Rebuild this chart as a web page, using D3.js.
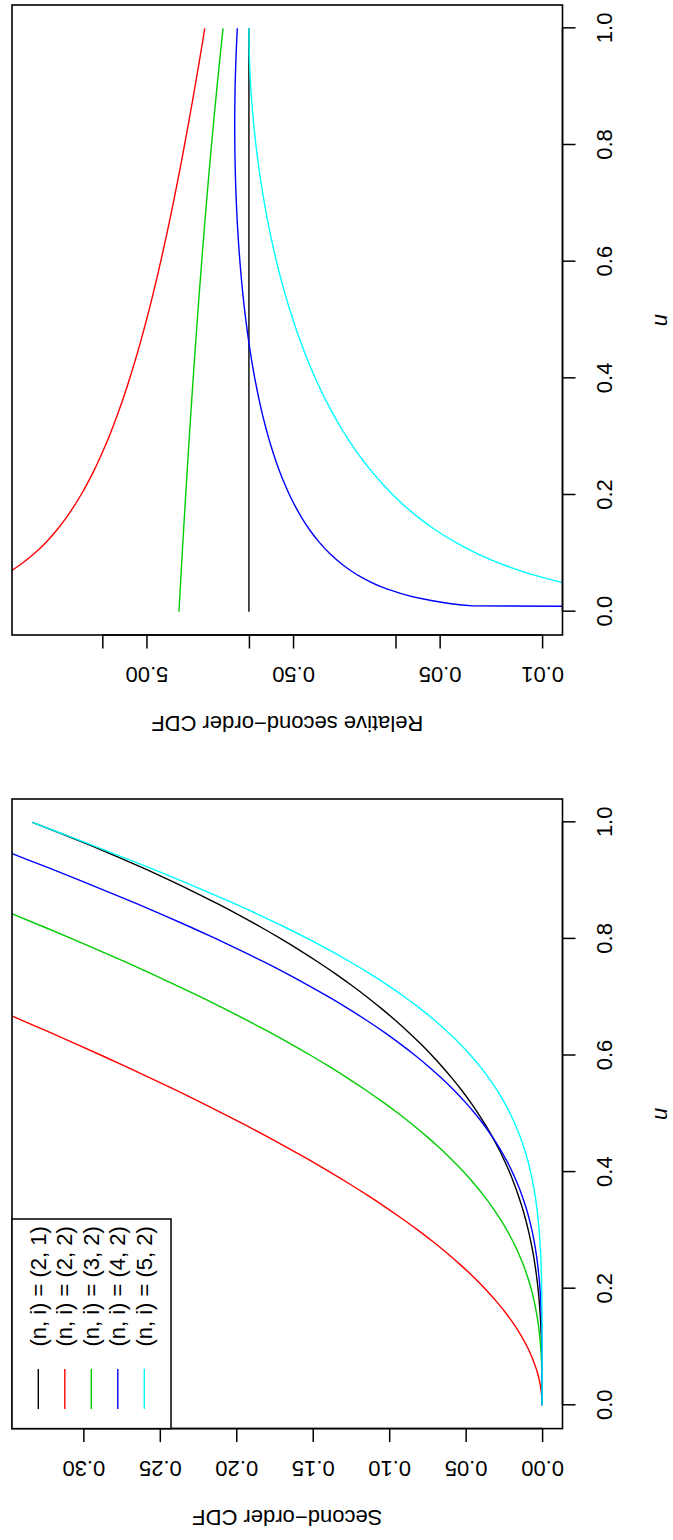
<!DOCTYPE html>
<html>
<head>
<meta charset="utf-8">
<script src="https://cdn.jsdelivr.net/npm/d3@7"></script>
<style>
  html, body { margin: 0; padding: 0; background: #ffffff; }
  svg { display: block; }
  text { font-family: "Liberation Sans", Arial, Helvetica, sans-serif; font-size: 22px; fill: #000; }
</style>
</head>
<body>
<svg id="fig" width="673" height="1540"></svg>
<script>
// ---- grid of u values shared by both panels ----
const u = [0, 0.01, 0.02, 0.04, 0.06, 0.08, 0.10, 0.12, 0.14, 0.16, 0.18, 0.20, 0.22, 0.24, 0.26, 0.28,
  0.30, 0.32, 0.34, 0.36, 0.38, 0.40, 0.42, 0.44, 0.46, 0.48, 0.50, 0.52, 0.54, 0.56, 0.58, 0.60,
  0.62, 0.64, 0.66, 0.68, 0.70, 0.72, 0.74, 0.76, 0.78, 0.80, 0.82, 0.84, 0.86, 0.88, 0.90, 0.92,
  0.94, 0.96, 0.98, 1.00];

// ---- second-order CDF, one array per (n, i) ----
const cdf21 = [0, 0, 0, 0.00002, 0.00007, 0.00017, 0.00033, 0.00058, 0.00091, 0.00137, 0.00194, 0.00267,
  0.00355, 0.00461, 0.00586, 0.00732, 0.009, 0.01092, 0.0131, 0.01555, 0.01829, 0.02133, 0.0247, 0.02839,
  0.03245, 0.03686, 0.04167, 0.04687, 0.05249, 0.05854, 0.06504, 0.072, 0.07944, 0.08738, 0.09583, 0.10481,
  0.11433, 0.12442, 0.13507, 0.14633, 0.15818, 0.17067, 0.18379, 0.19757, 0.21202, 0.22716, 0.243, 0.25956,
  0.27686, 0.29491, 0.31373, 0.33333];
const cdf22 = [0, 0.0001, 0.0004, 0.00158, 0.00353, 0.00623, 0.00967, 0.01382, 0.01869, 0.02423, 0.03046,
  0.03733, 0.04485, 0.05299, 0.06174, 0.07108, 0.081, 0.09148, 0.1025, 0.11405, 0.12611, 0.13867, 0.1517,
  0.16521, 0.17915, 0.19354, 0.20833, 0.22353, 0.23911, 0.25506, 0.27136, 0.288, 0.30496, 0.32222, 0.33977,
  0.35759, 0.37567];
const cdf32 = [0, 0.000001, 0.00001, 0.00006, 0.00021, 0.00049, 0.00095, 0.00162, 0.00255, 0.00377, 0.00531,
  0.0072, 0.00948, 0.01217, 0.01529, 0.01888, 0.02295, 0.02753, 0.03262, 0.03826, 0.04445, 0.0512, 0.05853,
  0.06644, 0.07495, 0.08405, 0.09375, 0.10405, 0.11495, 0.12644, 0.13853, 0.1512, 0.16445, 0.17826, 0.19262,
  0.20753, 0.22295, 0.23888, 0.25529, 0.27217, 0.28948, 0.3072, 0.32531, 0.34377, 0.36255, 0.38162];
const cdf42 = [0, 0, 0, 0.000002, 0.00001, 0.00004, 0.00009, 0.00019, 0.00035, 0.00059, 0.00094, 0.00141,
  0.00203, 0.00284, 0.00386, 0.00511, 0.00664, 0.00847, 0.01064, 0.01317, 0.0161, 0.01946, 0.02328, 0.02759,
  0.03242, 0.0378, 0.04375, 0.0503, 0.05748, 0.0653, 0.07378, 0.08294, 0.0928, 0.10335, 0.11461, 0.12658,
  0.13926, 0.15264, 0.16673, 0.18149, 0.19692, 0.21299, 0.22968, 0.24694, 0.26475, 0.28306, 0.30181, 0.32094,
  0.34041, 0.36012];
const cdf52 = [0, 0, 0, 0.0000001, 0.000001, 0.000003, 0.00001, 0.00002, 0.00005, 0.00009, 0.00017, 0.00028,
  0.00044, 0.00067, 0.00098, 0.0014, 0.00194, 0.00264, 0.00351, 0.0046, 0.00592, 0.00751, 0.00941, 0.01165,
  0.01428, 0.01733, 0.02083, 0.02484, 0.02939, 0.03451, 0.04026, 0.04666, 0.05375, 0.06156, 0.07013, 0.07948,
  0.08964, 0.10062, 0.11243, 0.12509, 0.13858, 0.15292, 0.16807, 0.18401, 0.20072, 0.21813, 0.2362, 0.25484,
  0.27399, 0.29353, 0.31336, 0.33333];

// ---- relative second-order CDF (relative to (n, i) = (2, 1)) ----
const rel21 = [1, 1, 1, 1, 1, 1, 1, 1, 1, 1, 1, 1, 1, 1, 1, 1, 1, 1, 1, 1, 1, 1, 1, 1, 1, 1,
  1, 1, 1, 1, 1, 1, 1, 1, 1, 1, 1, 1, 1, 1, 1, 1, 1, 1, 1, 1, 1, 1, 1, 1, 1, 1];
const rel22 = [null, 299, 149, 74, 49, 36.5, 29, 24, 20.43, 17.75, 15.67, 14, 12.64, 11.5, 10.54, 9.714, 9,
  8.375, 7.824, 7.333, 6.895, 6.5, 6.143, 5.818, 5.522, 5.25, 5, 4.769, 4.556, 4.357, 4.172, 4, 3.839,
  3.688, 3.545, 3.412, 3.286, 3.167, 3.054, 2.947, 2.846, 2.75, 2.659, 2.571, 2.488, 2.409, 2.333, 2.261,
  2.191, 2.125, 2.061, 2];
const rel32 = [3, 2.985, 2.97, 2.94, 2.91, 2.88, 2.85, 2.82, 2.79, 2.76, 2.73, 2.7, 2.67, 2.64, 2.61, 2.58,
  2.55, 2.52, 2.49, 2.46, 2.43, 2.4, 2.37, 2.34, 2.31, 2.28, 2.25, 2.22, 2.19, 2.16, 2.13, 2.1, 2.07, 2.04,
  2.01, 1.98, 1.95, 1.92, 1.89, 1.86, 1.83, 1.8, 1.77, 1.74, 1.71, 1.68, 1.65, 1.62, 1.59, 1.56, 1.53, 1.5];
const rel42 = [1e-9, 0.02982, 0.05928, 0.11712, 0.17352, 0.22848, 0.282, 0.33408, 0.38472, 0.43392, 0.48168,
  0.528, 0.57288, 0.61632, 0.65832, 0.69888, 0.738, 0.77568, 0.81192, 0.84672, 0.88008, 0.912, 0.94248,
  0.97152, 0.99912, 1.02528, 1.05, 1.07328, 1.09512, 1.11552, 1.13448, 1.152, 1.16808, 1.18272, 1.19592,
  1.20768, 1.218, 1.22688, 1.23432, 1.24032, 1.24488, 1.248, 1.24968, 1.24992, 1.24872, 1.24608, 1.242,
  1.23648, 1.22952, 1.22112, 1.21128, 1.2];
const rel52 = [null, 0.000298, 0.001184, 0.004672, 0.010368, 0.018176, 0.028, 0.039744, 0.053312, 0.068608,
  0.085536, 0.104, 0.123904, 0.145152, 0.167648, 0.191296, 0.216, 0.241664, 0.268192, 0.295488, 0.323456,
  0.352, 0.381024, 0.410432, 0.440128, 0.470016, 0.5, 0.529984, 0.559872, 0.589568, 0.618976, 0.648,
  0.676544, 0.704512, 0.731808, 0.758336, 0.784, 0.808704, 0.832352, 0.854848, 0.876096, 0.896, 0.914464,
  0.931392, 0.946688, 0.960256, 0.972, 0.981824, 0.989632, 0.995328, 0.998816, 1];

// ---- series labels, colours, axis ticks and limits ----
const seriesLabels = ["(n, i) = (2, 1)", "(n, i) = (2, 2)", "(n, i) = (3, 2)", "(n, i) = (4, 2)", "(n, i) = (5, 2)"];
const seriesColors = ["#000000", "#FF0000", "#00CD00", "#0000FF", "#00FFFF"];
const uTicks = [0, 0.2, 0.4, 0.6, 0.8, 1.0];
const uTickLabels = ["0.0", "0.2", "0.4", "0.6", "0.8", "1.0"];
const cdfTicks = [0, 0.05, 0.10, 0.15, 0.20, 0.25, 0.30];
const cdfTickLabels = ["0.00", "0.05", "0.10", "0.15", "0.20", "0.25", "0.30"];
const relTicks = [0.01, 0.05, 0.1, 0.5, 1, 5, 10];
const relTickLabels = ["0.01", "0.05", "", "0.50", "", "5.00", ""];
const uLimits = [0, 1];
const cdfLimits = [0, 0.3333333];
const relLimits = [0.01, 30];

// ---- figure is laid out landscape, then turned a quarter turn ----
const FW = 1540, FH = 673;
const svg = d3.select("#fig");
svg.append("rect").attr("width", 673).attr("height", 1540).attr("fill", "#fff");
const fig = svg.append("g").attr("transform", `translate(0,${FW}) rotate(-90)`);

const plotTop = 12, plotBottom = 562.5;
const extend = ([a, b]) => [a - 0.04 * (b - a), b + 0.04 * (b - a)];
const extendLog = ([a, b]) => extend([Math.log10(a), Math.log10(b)]).map(v => Math.pow(10, v));

function drawPanel(opts) {
  const { id, left, right, y, yTicks, yTickLabels, ylab, series, legend } = opts;
  const g = fig.append("g");
  const x = d3.scaleLinear().domain(extend(uLimits)).range([left, right]);

  g.append("clipPath").attr("id", id)
    .append("rect").attr("x", left).attr("y", plotTop)
    .attr("width", right - left).attr("height", plotBottom - plotTop);

  // curves
  const curves = g.append("g").attr("clip-path", `url(#${id})`);
  series.forEach((vals, k) => {
    const pts = vals.map((v, i) => [u[i], v]).filter(p => p[1] !== null);
    const line = d3.line()
      .x(p => x(p[0]))
      .y(p => y(p[1]))
      .curve(d3.curveMonotoneX);
    curves.append("path")
      .attr("d", line(pts))
      .attr("fill", "none")
      .attr("stroke", seriesColors[k])
      .attr("stroke-width", 1.4);
  });

  // bottom axis (u)
  const ax = g.append("g").attr("transform", `translate(0,${plotBottom})`)
    .call(d3.axisBottom(x).tickValues(uTicks)
      .tickFormat((d, i) => uTickLabels[i]).tickSizeInner(13).tickSizeOuter(0));
  ax.select(".domain").remove();
  ax.selectAll(".tick line").attr("stroke", "#000").attr("stroke-width", 1.5);
  ax.selectAll(".tick text").attr("y", 49).attr("dy", null).attr("text-anchor", "middle");
  g.append("line")
    .attr("x1", x(uTicks[0])).attr("x2", x(uTicks[uTicks.length - 1]))
    .attr("y1", plotBottom).attr("y2", plotBottom)
    .attr("stroke", "#000").attr("stroke-width", 1.5);

  // left axis
  const ay = g.append("g").attr("transform", `translate(${left},0)`)
    .call(d3.axisLeft(y).tickValues(yTicks)
      .tickFormat((d, i) => yTickLabels[i]).tickSizeInner(13.5).tickSizeOuter(0));
  ay.select(".domain").remove();
  ay.selectAll(".tick line").attr("stroke", "#000").attr("stroke-width", 1.5);
  ay.selectAll(".tick text")
    .attr("transform", "rotate(-90)")
    .attr("x", 0).attr("y", -32).attr("dy", null)
    .attr("text-anchor", "middle");
  g.append("line")
    .attr("x1", left).attr("x2", left)
    .attr("y1", y(yTicks[0])).attr("y2", y(yTicks[yTicks.length - 1]))
    .attr("stroke", "#000").attr("stroke-width", 1.5);

  // frame
  g.append("rect")
    .attr("x", left).attr("y", plotTop)
    .attr("width", right - left).attr("height", plotBottom - plotTop)
    .attr("fill", "none").attr("stroke", "#000").attr("stroke-width", 1.6);

  // axis titles
  g.append("text")
    .attr("x", (left + right) / 2).attr("y", 666.5)
    .attr("text-anchor", "middle")
    .style("font-style", "italic")
    .text("u");
  g.append("text")
    .attr("transform", `translate(${left - 81},${(plotTop + plotBottom) / 2}) rotate(-90)`)
    .attr("text-anchor", "middle")
    .text(ylab);

  if (legend) {
    const lg = g.append("g");
    lg.append("rect")
      .attr("x", left).attr("y", plotTop)
      .attr("width", 209.6).attr("height", 159)
      .attr("fill", "#fff").attr("stroke", "#000").attr("stroke-width", 1.5);
    seriesLabels.forEach((lab, k) => {
      const yy = plotTop + 26.3 + k * 26.5;
      lg.append("line")
        .attr("x1", left + 19.6).attr("x2", left + 59.6)
        .attr("y1", yy).attr("y2", yy)
        .attr("stroke", seriesColors[k]).attr("stroke-width", 1.4);
      lg.append("text")
        .attr("x", left + 82).attr("y", yy)
        .attr("dominant-baseline", "central")
        .text(lab);
    });
  }
}

// left panel: second-order CDF
drawPanel({
  id: "clipCdf",
  left: 111.4, right: 741,
  y: d3.scaleLinear().domain(extend(cdfLimits)).range([plotBottom, plotTop]),
  yTicks: cdfTicks, yTickLabels: cdfTickLabels,
  ylab: "Second\u2212order CDF",
  series: [cdf21, cdf22, cdf32, cdf42, cdf52],
  legend: true
});

// right panel: relative second-order CDF on a log scale
drawPanel({
  id: "clipRel",
  left: 905, right: 1535,
  y: d3.scaleLog().domain(extendLog(relLimits)).range([plotBottom, plotTop]),
  yTicks: relTicks, yTickLabels: relTickLabels,
  ylab: "Relative second\u2212order CDF",
  series: [rel21, rel22, rel32, rel42, rel52],
  legend: false
});
</script>
</body>
</html>
